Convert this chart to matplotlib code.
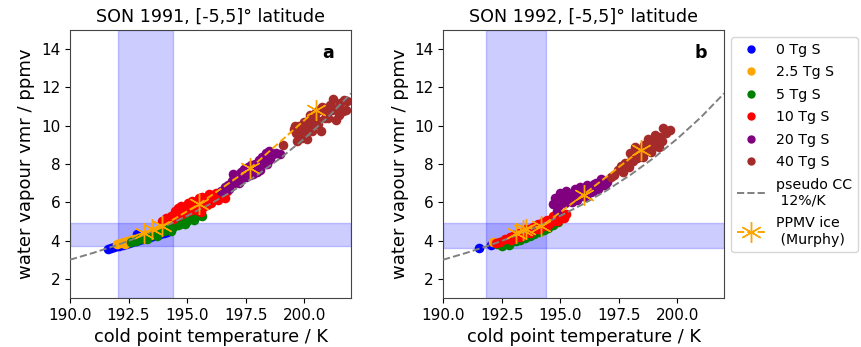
import matplotlib
matplotlib.use("Agg")
import matplotlib.pyplot as plt
from matplotlib.lines import Line2D

# ---------------- data ----------------
groups = ["0 Tg S", "2.5 Tg S", "5 Tg S", "10 Tg S", "20 Tg S", "40 Tg S"]
colors = ["blue", "orange", "green", "red", "purple", "brown"]

# Panel a (SON 1991)
a_T_0 = [191.62, 191.75, 191.9, 192.0, 192.1, 192.25, 192.4, 192.5, 192.65, 192.8, 192.95, 193.1,
         193.25, 193.4, 193.55, 193.7, 193.85, 194.0, 194.15, 192.2, 192.6, 193.0, 193.3, 192.85]
a_y_0 = [3.56, 3.6, 3.65, 3.7, 3.74, 3.78, 3.84, 3.88, 3.93, 4.0, 4.05, 4.1,
         4.15, 4.2, 4.26, 4.3, 4.36, 4.4, 4.46, 3.82, 3.96, 4.06, 4.18, 4.35]
a_T_25 = [192.0, 192.15, 192.3, 192.45, 192.6, 192.75, 192.9, 193.05, 193.2, 193.35, 193.5,
          193.65, 193.8, 193.95, 194.1, 192.5, 193.0, 192.35]
a_y_25 = [3.8, 3.86, 3.9, 3.97, 4.02, 4.07, 4.12, 4.18, 4.24, 4.3, 4.36, 4.42, 4.48, 4.54,
          4.6, 3.92, 4.14, 3.82]
a_T_5 = [192.6, 192.8, 193.0, 193.2, 193.4, 193.6, 193.8, 194.0, 194.2, 194.4, 194.6, 194.8,
         195.0, 195.2, 195.4, 195.55, 193.5, 194.1, 194.7, 195.1, 193.9, 193.3, 193.7, 194.3,
         194.9, 195.3, 195.65]
a_y_5 = [3.9, 3.98, 4.06, 4.16, 4.24, 4.32, 4.4, 4.5, 4.6, 4.7, 4.82, 4.92, 5.04, 5.16, 5.28,
         5.36, 4.36, 4.58, 4.86, 5.2, 4.5, 4.1, 4.26, 4.5, 4.85, 5.1, 5.3]
a_T_10 = [193.95, 194.1, 194.3, 194.5, 194.6, 194.75, 194.9, 195.05, 195.2, 195.35, 195.5, 195.65,
          195.8, 195.95, 196.1, 196.25, 196.4, 196.55, 196.7, 194.4, 194.8, 195.1, 195.4, 195.7,
          196.0, 196.3, 195.6, 196.6, 194.6, 194.95, 195.25, 195.85, 196.15, 194.2, 196.45]
a_y_10 = [5.0, 5.2, 5.3, 5.55, 5.7, 5.8, 5.75, 5.95, 6.05, 6.0, 6.2, 6.3, 6.25, 6.45, 6.4, 6.5,
          6.45, 6.55, 6.6, 5.15, 5.4, 5.55, 5.6, 5.75, 5.95, 6.1, 5.5, 6.25, 5.3, 5.5, 5.7, 5.85,
          6.15, 5.05, 6.3]
a_T_20 = [196.45, 196.6, 196.75, 196.9, 197.0, 197.15, 197.3, 197.45, 197.6, 197.75, 197.9, 198.05,
          198.2, 198.35, 198.5, 198.65, 198.8, 198.95, 197.2, 197.5, 197.8, 198.1, 198.4, 197.0,
          197.35, 197.65, 198.0, 196.8, 197.1, 197.4, 197.7, 198.25, 198.55, 196.95]
a_y_20 = [6.6, 6.8, 6.9, 7.1, 7.3, 7.45, 7.6, 7.75, 7.85, 7.95, 8.0, 8.2, 8.35, 8.55, 8.7, 8.5,
          8.6, 8.5, 7.0, 7.3, 7.5, 7.7, 8.0, 7.0, 7.25, 7.55, 7.6, 6.7, 7.25, 7.45, 7.4, 8.05,
          8.25, 7.5]
a_T_40 = [199.1, 199.55, 199.65, 199.8, 199.9, 200.0, 200.1, 200.2, 200.35, 200.5, 200.6, 200.7,
          200.85, 201.0, 201.1, 201.25, 201.4, 201.55, 201.7, 201.8, 199.7, 200.05, 200.4, 200.75,
          201.05, 201.35, 201.65, 200.3, 200.9, 201.2, 199.85, 200.15, 200.55, 200.95, 201.5,
          201.85, 200.25, 200.65, 199.6]
a_y_40 = [9.0, 9.85, 9.6, 10.0, 9.35, 10.2, 9.3, 10.3, 9.7, 10.7, 10.1, 9.7, 10.9, 10.4, 11.1,
          11.4, 10.9, 11.2, 11.35, 10.8, 9.2, 9.75, 10.5, 11.0, 10.9, 10.3, 10.75, 10.05, 10.4,
          10.8, 9.75, 9.95, 10.3, 10.65, 10.55, 11.3, 10.55, 10.8, 10.0]
a_star_T = [193.15, 193.5, 193.95, 195.5, 197.7, 200.5]
a_star_y = [4.42, 4.58, 4.76, 5.9, 7.78, 10.82]
a_span_T = [192.06, 194.41]
a_span_y = [3.7, 4.9]

# Panel b (SON 1992)
b_T_0 = [191.55, 192.05, 192.3, 192.6, 192.9, 193.2, 193.5, 193.8, 194.1, 194.4, 194.85, 194.6]
b_y_0 = [3.6, 3.75, 3.85, 3.95, 4.05, 4.15, 4.3, 4.4, 4.55, 4.7, 5.1, 4.85]
b_T_25 = [192.15, 192.4, 192.7, 193.0, 193.3, 193.6, 193.9, 194.2, 194.5, 194.75, 193.45, 194.0,
          194.35]
b_y_25 = [3.9, 3.95, 4.05, 4.2, 4.35, 4.5, 4.6, 4.7, 4.8, 4.88, 4.4, 4.55, 4.62]
b_T_5 = [192.3, 192.5, 192.7, 192.9, 193.1, 193.3, 193.5, 193.7, 193.9, 194.1, 194.3, 194.5,
         194.7, 194.9, 192.6, 193.0, 193.4, 193.8, 192.45, 192.8]
b_y_5 = [3.8, 3.72, 3.85, 3.9, 4.0, 4.05, 4.15, 4.25, 4.35, 4.45, 4.55, 4.65, 4.8, 4.95, 3.95,
         4.1, 4.3, 4.4, 3.9, 3.78]
b_T_10 = [192.25, 192.45, 192.65, 192.85, 193.05, 193.25, 193.45, 193.65, 193.85, 194.05, 194.25,
          194.45, 194.65, 194.85, 195.05, 195.25, 192.9, 193.3, 193.7, 194.1, 194.5, 194.9, 193.5,
          194.3, 194.7, 193.15, 193.55, 193.95, 194.35, 194.75, 195.15]
b_y_10 = [3.85, 3.95, 4.1, 4.2, 4.3, 4.42, 4.5, 4.62, 4.72, 4.85, 4.95, 5.05, 5.15, 5.28, 5.35,
          5.4, 4.05, 4.2, 4.4, 4.6, 4.8, 5.0, 4.6, 4.75, 5.3, 4.2, 4.42, 4.62, 4.82, 5.0, 5.2]
b_T_20 = [194.7, 194.8, 194.9, 195.0, 195.1, 195.25, 195.4, 195.55, 195.7, 195.85, 196.0, 196.15,
          196.3, 196.45, 196.6, 196.75, 196.9, 195.2, 195.5, 195.8, 196.1, 196.4, 196.7, 195.05,
          195.65, 194.85, 195.35, 195.95, 196.55, 197.0]
b_y_20 = [5.9, 6.25, 5.75, 6.5, 6.1, 6.6, 6.2, 6.45, 6.1, 6.8, 6.5, 6.9, 6.55, 6.95, 6.7, 7.2,
          6.9, 5.95, 6.0, 6.3, 6.3, 6.6, 6.85, 6.3, 6.7, 5.55, 6.45, 6.65, 7.0, 7.05]
b_T_40 = [197.15, 197.3, 197.45, 197.6, 197.75, 197.9, 198.05, 198.2, 198.35, 198.5, 198.65, 198.8,
          198.95, 199.1, 199.25, 199.4, 199.55, 199.7, 197.7, 198.0, 198.3, 198.6, 198.9, 199.2,
          199.5, 198.1, 198.45, 198.75, 197.95, 198.25, 198.55, 199.05, 199.35]
b_y_40 = [7.3, 7.45, 7.7, 7.9, 8.05, 8.0, 8.3, 8.9, 8.5, 8.8, 8.7, 9.1, 8.9, 9.3, 9.4, 9.9, 9.75,
          9.8, 7.6, 8.6, 8.3, 9.0, 8.65, 8.9, 9.6, 8.15, 8.45, 9.3, 7.85, 8.55, 8.35, 9.5, 9.2]
b_star_T = [193.1, 193.4, 193.55, 194.2, 196.0, 198.45]
b_star_y = [4.42, 4.55, 4.62, 4.74, 6.4, 8.74]
b_span_T = [191.84, 194.38]
b_span_y = [3.62, 4.9]

# pseudo Clausius-Clapeyron reference curve (12 %/K)
cc_T = [190, 191, 192, 193, 194, 195, 196, 197, 198, 199, 200, 201, 202]
cc_y = [3.00, 3.36, 3.76, 4.21, 4.72, 5.29, 5.92, 6.63, 7.43, 8.32, 9.32, 10.43, 11.69]

titles = ["SON 1991, [-5,5]° latitude", "SON 1992, [-5,5]° latitude"]
panel_letters = ["a", "b"]
xticks = [190.0, 192.5, 195.0, 197.5, 200.0]
yticks = [2, 4, 6, 8, 10, 12, 14]

panels = [
    dict(T=[a_T_0, a_T_25, a_T_5, a_T_10, a_T_20, a_T_40],
         y=[a_y_0, a_y_25, a_y_5, a_y_10, a_y_20, a_y_40],
         sT=a_star_T, sy=a_star_y, spT=a_span_T, spy=a_span_y),
    dict(T=[b_T_0, b_T_25, b_T_5, b_T_10, b_T_20, b_T_40],
         y=[b_y_0, b_y_25, b_y_5, b_y_10, b_y_20, b_y_40],
         sT=b_star_T, sy=b_star_y, spT=b_span_T, spy=b_span_y),
]

# ---------------- plot ----------------
plt.rcParams['font.family'] = ['DejaVu Sans']
fig = plt.figure(figsize=(8.62, 3.47), dpi=100)
axes = [fig.add_axes([0.0812, 0.1412, 0.326, 0.7723]),
        fig.add_axes([0.514, 0.1412, 0.326, 0.7723])]

star_marker = (6, 2, 0)

for i, (ax, p) in enumerate(zip(axes, panels)):
    ax.axvspan(p['spT'][0], p['spT'][1], color='blue', alpha=0.2, zorder=0)
    ax.axhspan(p['spy'][0], p['spy'][1], color='blue', alpha=0.2, zorder=0)
    for T, y, c, lab in zip(p['T'], p['y'], colors, groups):
        ax.scatter(T, y, s=48, color=c, label=lab, zorder=2, linewidths=0)
    ax.plot(cc_T, cc_y, ls='--', color='grey', lw=1.4, zorder=3)
    ax.plot(p['sT'], p['sy'], ls='--', color='orange', lw=1.4, marker=star_marker,
            markersize=15, markeredgewidth=1.0, zorder=4)
    ax.set_xlim(190, 202)
    ax.set_ylim(1, 15)
    ax.set_xticks(xticks)
    ax.set_xticklabels([f"{v:.1f}" for v in xticks])
    ax.set_yticks(yticks)
    ax.tick_params(labelsize=11)
    ax.set_xlabel("cold point temperature / K", fontsize=12.8)
    ax.set_ylabel("water vapour vmr / ppmv", fontsize=13)
    ax.set_title(titles[i], fontsize=12.6)
    ax.text(0.918, 0.915, panel_letters[i], transform=ax.transAxes, fontsize=12.5,
            fontweight='bold', ha='center', va='center')
    for sp in ax.spines.values():
        sp.set_color('#444444')

handles = [Line2D([], [], ls='none', marker='o', color=c, markersize=5) for c in colors]
handles.append(Line2D([], [], ls='--', color='grey', lw=1.4))
handles.append(Line2D([], [], ls='--', color='orange', lw=1.4, marker=star_marker,
                      markersize=15, markeredgewidth=1.0))
labels = groups + ['pseudo CC\n 12%/K', 'PPMV ice\n (Murphy)']
axes[1].legend(handles, labels, loc='upper left', bbox_to_anchor=(1.0, 1.0),
               fontsize=10.2, borderaxespad=0.5, handlelength=2.0, labelspacing=0.6)

fig.savefig("out.png", dpi=100)
